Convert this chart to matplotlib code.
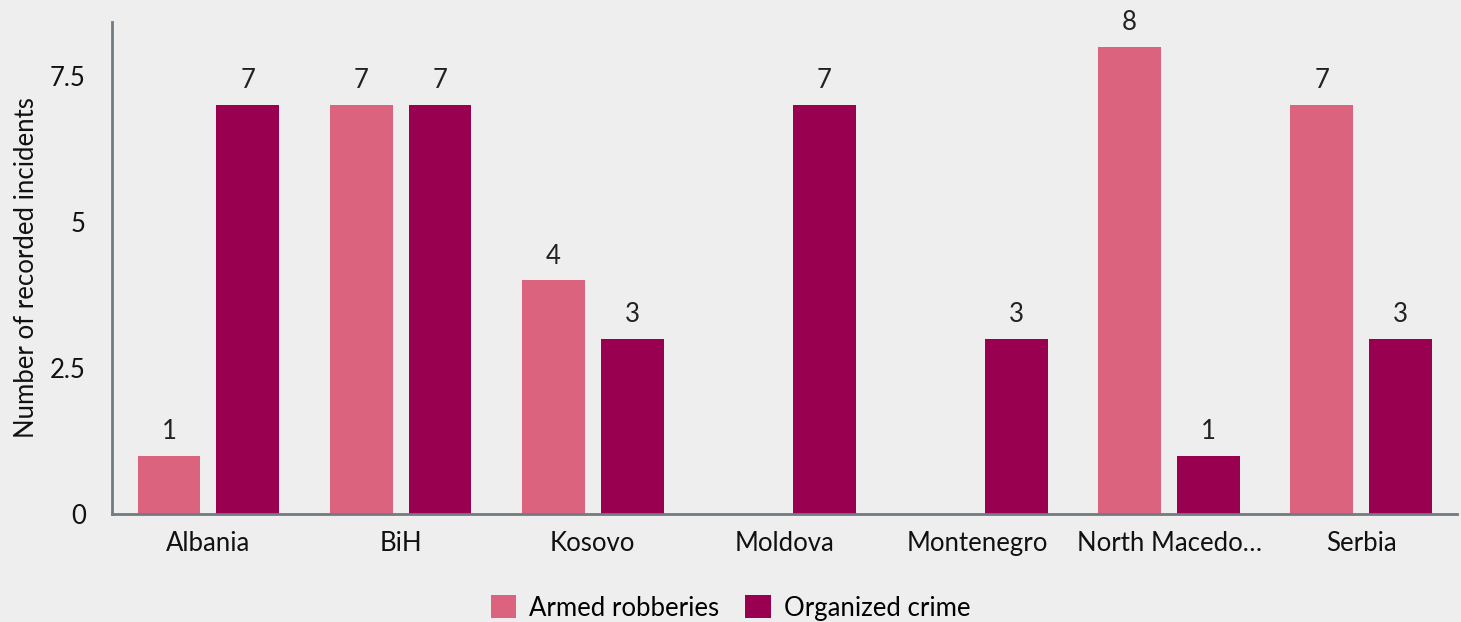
import matplotlib.pyplot as plt
import numpy as np

plt.rcParams['font.family'] = ['Lato', 'DejaVu Sans']

paises = ['Albania', 'BiH', 'Kosovo', 'Moldova', 'Montenegro', 'North Macedo…', 'Serbia']
robos = [1, 7, 4, 0, 0, 8, 7]
crimen = [7, 7, 3, 7, 3, 1, 3]
series = ['Armed robberies', 'Organized crime']
yticks = [0, 2.5, 5, 7.5]
ytick_labels = ['0', '2.5', '5', '7.5']

fondo = '#eeeeee'
colores = ['#dc637d', '#99004f']
fs = 18.5

fig = plt.figure(figsize=(14.61, 6.22), dpi=100, facecolor=fondo)
ax = fig.add_axes([0.0769, 0.1736, 0.9206, 0.791])
ax.set_facecolor(fondo)

x = np.arange(len(paises))
ancho = 0.327
for desp, valores, color, nombre in [(-0.205, robos, colores[0], series[0]),
                                     (0.205, crimen, colores[1], series[1])]:
    barras = ax.bar(x + desp, valores, ancho, color=color, label=nombre)
    for b, v in zip(barras, valores):
        if v > 0:
            ax.text(b.get_x() + b.get_width() / 2, v + 0.2, str(v),
                    ha='center', va='bottom', fontsize=fs, color='#222222')

ax.set_xlim(-0.5, len(paises) - 0.5)
ax.set_ylim(0, 8.42)
ax.set_xticks(x)
ax.set_xticklabels(paises, fontsize=fs, color='#111111')
ax.set_yticks(yticks)
ax.set_yticklabels(ytick_labels, fontsize=fs, color='#111111')
ax.tick_params(axis='x', length=0, pad=12)
ax.tick_params(axis='y', length=0, pad=19)
ax.set_ylabel('Number of recorded incidents', fontsize=fs, color='#111111', labelpad=8)

for lado in ['top', 'right']:
    ax.spines[lado].set_visible(False)
for lado in ['left', 'bottom']:
    ax.spines[lado].set_color('#727a84')
    ax.spines[lado].set_linewidth(2)

fig.legend(loc='lower center', bbox_to_anchor=(0.5, -0.035), ncol=2, frameon=False,
           fontsize=fs, handlelength=1.0, handleheight=1.0, handletextpad=0.5,
           columnspacing=1.0)

fig.savefig('out.png', dpi=100, facecolor=fondo)
